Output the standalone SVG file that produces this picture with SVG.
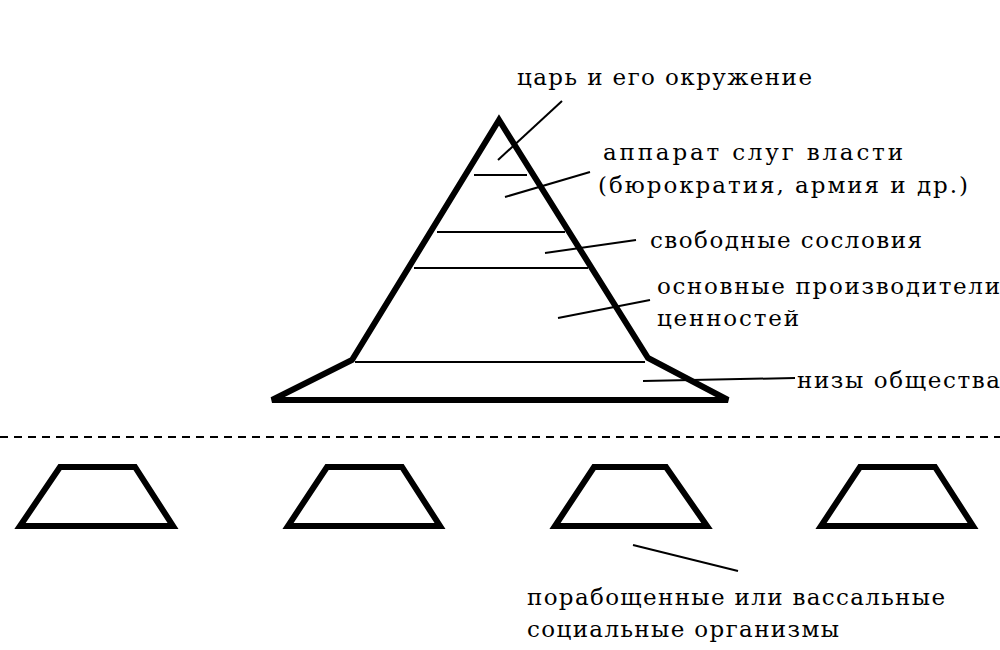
<svg xmlns="http://www.w3.org/2000/svg" width="1000" height="650" viewBox="0 0 1000 650">
<style>
.t{font-family:"DejaVu Serif","Liberation Serif",serif;font-size:23px;fill:#000}
.thick{fill:none;stroke:#000;stroke-width:6;stroke-linejoin:miter}
.thin{stroke:#000;stroke-width:2;fill:none}
</style>
<rect width="1000" height="650" fill="#fff"/>
<g id="pyramid">
<path class="thick" d="M499,120 L352,360 L272,400 L728,400 L648,358 Z"/>
<line class="thin" x1="474" y1="175" x2="527" y2="175"/>
<line class="thin" x1="437" y1="232" x2="565" y2="232"/>
<line class="thin" x1="414" y1="268" x2="588" y2="268"/>
<line class="thin" x1="355" y1="362" x2="645" y2="362"/>
</g>
<g id="labels">
<text class="t" x="517" y="85" textLength="295">царь и его окружение</text>
<text class="t" x="603" y="160" textLength="300">аппарат слуг власти</text>
<text class="t" x="598" y="193" textLength="370">(бюрократия, армия и др.)</text>
<text class="t" x="650" y="248" textLength="272">свободные сословия</text>
<text class="t" x="657" y="294" textLength="343">основные производители</text>
<text class="t" x="657" y="326" textLength="142">ценностей</text>
<text class="t" x="797" y="388" textLength="203">низы общества</text>
<text class="t" x="527" y="605" textLength="418">порабощенные или вассальные</text>
<text class="t" x="527" y="637" textLength="312">социальные организмы</text>
</g>
<g id="connectors">
<line class="thin" x1="498" y1="160" x2="562" y2="101"/>
<line class="thin" x1="505" y1="197" x2="590" y2="172"/>
<line class="thin" x1="545" y1="253" x2="636" y2="240"/>
<line class="thin" x1="558" y1="318" x2="650" y2="300"/>
<line class="thin" x1="643" y1="381" x2="795" y2="378"/>
<line class="thin" x1="633" y1="545" x2="738" y2="571"/>
<line stroke="#000" stroke-width="2" stroke-dasharray="8,6" x1="0" y1="437" x2="1000" y2="437"/>
</g>
<g id="t1"><path class="thick" d="M60,467 L135,467 L173,526 L20,526 Z"/></g>
<g id="t2"><path class="thick" d="M327,467 L402,467 L440,526 L288,526 Z"/></g>
<g id="t3"><path class="thick" d="M594,467 L666,467 L707,526 L555,526 Z"/></g>
<g id="t4"><path class="thick" d="M860,467 L935,467 L973,526 L821,526 Z"/></g>
</svg>
